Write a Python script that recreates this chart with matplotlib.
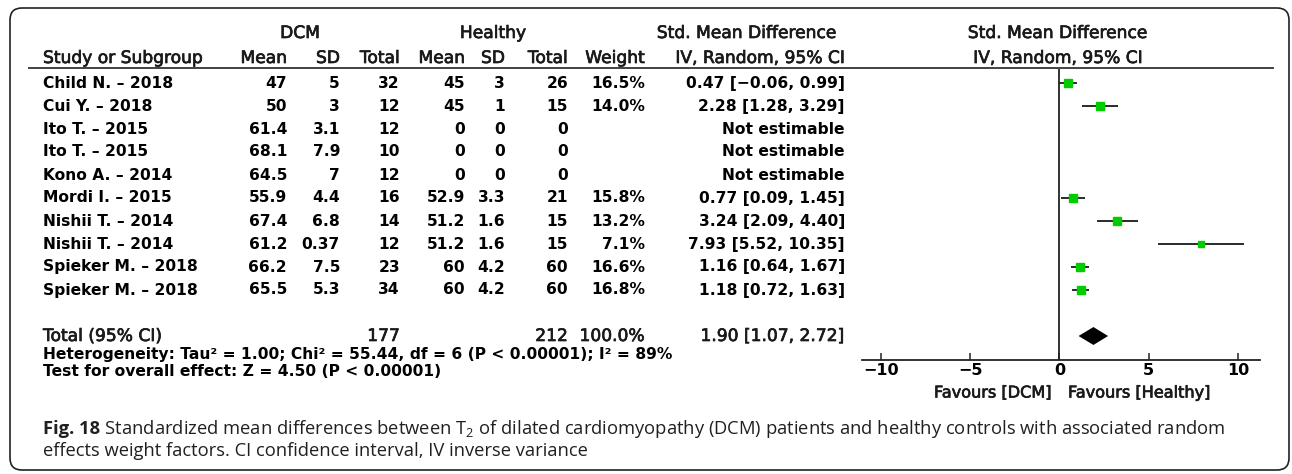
import numpy as np
import matplotlib.pyplot as plt
import matplotlib.patheffects as pe
from matplotlib.patches import FancyBboxPatch

# study data
studies = ["Child N. – 2018", "Cui Y. – 2018", "Ito T. – 2015", "Ito T. – 2015",
           "Kono A. – 2014", "Mordi I. – 2015", "Nishii T. – 2014", "Nishii T. – 2014",
           "Spieker M. – 2018", "Spieker M. – 2018"]
dcm_mean = [47, 50, 61.4, 68.1, 64.5, 55.9, 67.4, 61.2, 66.2, 65.5]
dcm_sd = [5, 3, 3.1, 7.9, 7, 4.4, 6.8, 0.37, 7.5, 5.3]
dcm_n = [32, 12, 12, 10, 12, 16, 14, 12, 23, 34]
h_mean = [45, 45, 0, 0, 0, 52.9, 51.2, 51.2, 60, 60]
h_sd = [3, 1, 0, 0, 0, 3.3, 1.6, 1.6, 4.2, 4.2]
h_n = [26, 15, 0, 0, 0, 21, 15, 15, 60, 60]
weight = [16.5, 14.0, np.nan, np.nan, np.nan, 15.8, 13.2, 7.1, 16.6, 16.8]
smd = [0.47, 2.28, np.nan, np.nan, np.nan, 0.77, 3.24, 7.93, 1.16, 1.18]
ci_lo = [-0.06, 1.28, np.nan, np.nan, np.nan, 0.09, 2.09, 5.52, 0.64, 0.72]
ci_hi = [0.99, 3.29, np.nan, np.nan, np.nan, 1.45, 4.40, 10.35, 1.67, 1.63]

total_dcm = 177
total_h = 212
total_weight = 100.0
total_smd, total_lo, total_hi = 1.90, 1.07, 2.72

heterogeneity = "Heterogeneity: Tau² = 1.00; Chi² = 55.44, df = 6 (P < 0.00001); I² = 89%"
overall = "Test for overall effect: Z = 4.50 (P < 0.00001)"
xticks = [-10, -5, 0, 5, 10]

W, H = 1292, 474
fig = plt.figure(figsize=(W / 100, H / 100), dpi=100)
bg = fig.add_axes([0, 0, 1, 1])
bg.set_xlim(0, W)
bg.set_ylim(H, 0)
bg.axis('off')

dark = '#222222'
thick = [pe.withStroke(linewidth=0.5, foreground='#1a1a1a')]
head_kw = dict(fontsize=12.3, color='#1a1a1a', family='DejaVu Sans', va='center',
               path_effects=thick)
row_kw = dict(fontsize=11.2, color='black', family='DejaVu Sans', fontweight='bold', va='center')

# rounded frame
bg.add_patch(FancyBboxPatch((10, 8), 1279, 462, boxstyle="round,pad=0,rounding_size=12",
                            fill=False, ec=dark, lw=1.2))

# header
bg.text(300, 33, "DCM", ha='center', **head_kw)
bg.text(493, 33, "Healthy", ha='center', **head_kw)
bg.text(747, 33, "Std. Mean Difference", ha='center', **head_kw)
bg.text(1058, 33, "Std. Mean Difference", ha='center', **head_kw)
bg.text(1058, 58, "IV, Random, 95% CI", ha='center', **head_kw)
bg.text(43, 58, "Study or Subgroup", ha='left', **head_kw)
col_right = [287, 340, 400, 465, 505, 568, 645, 845]
col_names = ["Mean", "SD", "Total", "Mean", "SD", "Total", "Weight", "IV, Random, 95% CI"]
for x, name in zip(col_right, col_names):
    bg.text(x, 58, name, ha='right', **head_kw)
bg.plot([28, 1274], [68, 68], color=dark, lw=1.2, solid_capstyle='butt')


def fmt_ci(m, lo, hi):
    return f"{m:.2f} [{lo:.2f}, {hi:.2f}]".replace('-', '−')


row0, dy = 83, 23
for i, name in enumerate(studies):
    y = row0 + dy * i
    bg.text(43, y, name, ha='left', **row_kw)
    vals = [f"{dcm_mean[i]:g}", f"{dcm_sd[i]:g}", f"{dcm_n[i]}",
            f"{h_mean[i]:g}", f"{h_sd[i]:g}", f"{h_n[i]}"]
    if np.isnan(smd[i]):
        vals += ["", "Not estimable"]
    else:
        vals += [f"{weight[i]:.1f}%", fmt_ci(smd[i], ci_lo[i], ci_hi[i])]
    for x, v in zip(col_right, vals):
        if v:
            bg.text(x, y, v, ha='right', **row_kw)

# total row
ytot = row0 + dy * 11
bg.text(43, ytot, "Total (95% CI)", ha='left', **head_kw)
bg.text(col_right[2], ytot, f"{total_dcm}", ha='right', **head_kw)
bg.text(col_right[5], ytot, f"{total_h}", ha='right', **head_kw)
bg.text(col_right[6], ytot, f"{total_weight:.1f}%", ha='right', **head_kw)
bg.text(col_right[7], ytot, fmt_ci(total_smd, total_lo, total_hi), ha='right', **head_kw)
bg.text(43, 354, heterogeneity, ha='left', **row_kw)
bg.text(43, 372, overall, ha='left', **row_kw)

# forest plot
x_left, x_right = 862, 1260
y_top, y_bot = 69, 360
ax = fig.add_axes([x_left / W, 1 - y_bot / H, (x_right - x_left) / W, (y_bot - y_top) / H])
ax.patch.set_alpha(0)
ax.set_xlim(-11.06, 11.23)
ax.set_ylim((y_bot - row0) / dy, (y_top - row0) / dy)
for s in ['top', 'left', 'right']:
    ax.spines[s].set_visible(False)
ax.spines['bottom'].set_color(dark)
ax.spines['bottom'].set_linewidth(1.3)
ax.axvline(0, color=dark, lw=1.3)
ax.set_yticks([])
ax.set_xticks(xticks)
ax.tick_params(axis='x', direction='in', length=5, width=1.1, color=dark, pad=2.5,
               labelsize=11.5)
for lab in ax.get_xticklabels():
    lab.set_fontweight('bold')

rows = np.arange(len(studies))
for i in rows:
    if np.isnan(smd[i]):
        continue
    ax.plot([ci_lo[i], ci_hi[i]], [i, i], color='#2a2a2a', lw=1.4, solid_capstyle='butt')
    ax.plot(smd[i], i, marker='s', ms=1.4 * np.sqrt(weight[i]), color='#00cc00',
            mec='#00cc00', ls='none')

dh = 0.39
ax.fill([total_lo, total_smd, total_hi, total_smd], [11, 11 - dh, 11, 11 + dh],
        color='black', lw=0)

fav_kw = dict(fontsize=11.6, color='#1a1a1a', family='DejaVu Sans', va='center',
              path_effects=thick)
bg.text(1052, 393, "Favours [DCM]", ha='right', **fav_kw)
bg.text(1068, 393, "Favours [Healthy]", ha='left', **fav_kw)

# caption
cap_family = ['Open Sans', 'DejaVu Sans']
cap_size = 12.5
r = fig.canvas.get_renderer()
line1 = " Standardized mean differences between $\\mathregular{T_2}$ of dilated cardiomyopathy (DCM) patients and healthy controls with associated random"
line2 = "effects weight factors. CI confidence interval, IV inverse variance"
t_fig = bg.text(43, 429, "Fig. 18", family=cap_family, fontweight='bold', fontsize=cap_size,
                color='#231f20', va='center')
t_rest = bg.text(43, 429, line1, family=cap_family, fontsize=cap_size, color='#231f20', va='center')
w_tot = t_fig.get_window_extent(r).width + t_rest.get_window_extent(r).width
cap_size *= 1180 / w_tot
t_fig.set_fontsize(cap_size)
t_rest.set_fontsize(cap_size)
t_rest.set_x(43 + t_fig.get_window_extent(r).width)
bg.text(43, 451, line2, family=cap_family, fontsize=cap_size, color='#231f20', va='center')

fig.savefig('out.png', dpi=100)
